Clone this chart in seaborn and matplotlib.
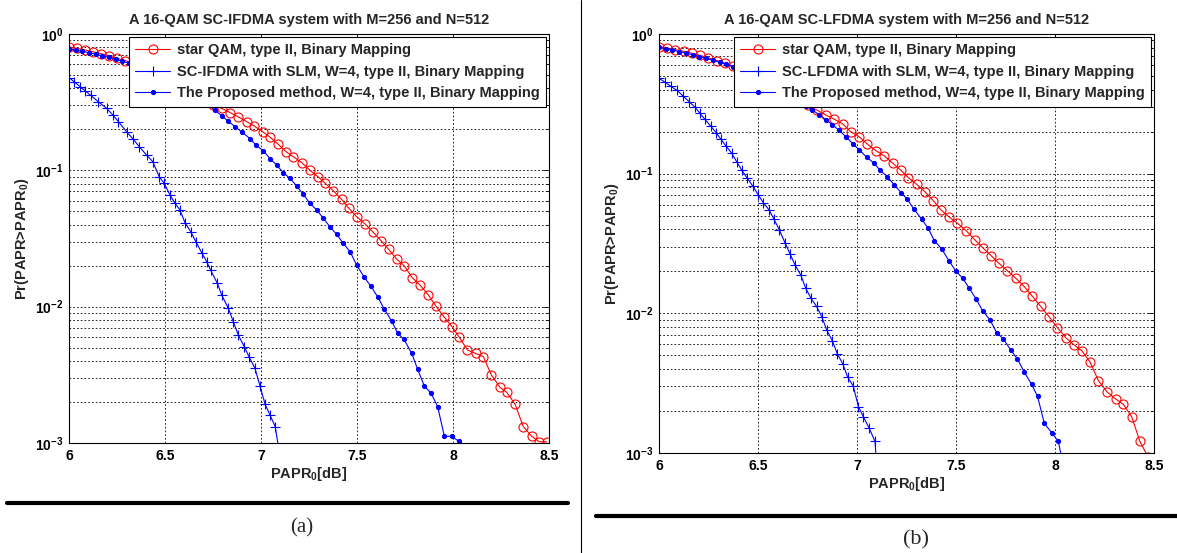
import numpy as np
import pandas as pd
import matplotlib
matplotlib.use("Agg")
import matplotlib.pyplot as plt
import seaborn as sns
from matplotlib.lines import Line2D
from matplotlib.ticker import LogLocator, NullFormatter, FixedLocator

# ---------------- data ----------------
titles = ["A 16-QAM SC-IFDMA system with M=256 and N=512",
          "A 16-QAM SC-LFDMA system with M=256 and N=512"]
labels_a = ["star QAM, type II, Binary Mapping",
            "SC-IFDMA with SLM, W=4, type II, Binary Mapping",
            "The Proposed method, W=4, type II, Binary Mapping"]
labels_b = ["star QAM, type II, Binary Mapping",
            "SC-LFDMA with SLM, W=4, type II, Binary Mapping",
            "The Proposed method, W=4, type II, Binary Mapping"]
captions = ["(a)", "(b)"]
xtick_vals = [6, 6.5, 7, 7.5, 8, 8.5]
xtick_labels = ["6", "6.5", "7", "7.5", "8", "8.5"]
ytick_vals = [1e-3, 1e-2, 1e-1, 1e0]
ytick_labels = [r"$10^{-3}$", r"$10^{-2}$", r"$10^{-1}$", r"$10^{0}$"]

# panel (a) star QAM
a_star_x = [6.000, 6.042, 6.083, 6.125, 6.167, 6.208, 6.250, 6.292, 6.333, 6.375,
            6.417, 6.458, 6.500, 6.542, 6.583, 6.625, 6.667, 6.708, 6.752, 6.795,
            6.839, 6.880, 6.925, 6.965, 7.009, 7.047, 7.090, 7.130, 7.168, 7.212,
            7.255, 7.297, 7.335, 7.377, 7.420, 7.458, 7.498, 7.542, 7.585, 7.625,
            7.665, 7.707, 7.745, 7.788, 7.828, 7.871, 7.911, 7.953, 7.995, 8.033,
            8.075, 8.118, 8.158, 8.200, 8.245, 8.280, 8.323, 8.366, 8.410, 8.449, 8.488]
a_star_y = [0.804, 0.785, 0.764, 0.741, 0.718, 0.692, 0.665, 0.638, 0.612, 0.585,
            0.556, 0.526, 0.495, 0.465, 0.435, 0.405, 0.376, 0.339, 0.301, 0.285,
            0.265, 0.247, 0.228, 0.211, 0.192, 0.175, 0.155, 0.137, 0.126, 0.114,
            0.100, 0.0897, 0.0802, 0.0708, 0.0612, 0.0526, 0.0457, 0.0404, 0.0351, 0.0305,
            0.0263, 0.0223, 0.0200, 0.0163, 0.0144, 0.0122, 0.0101, 0.00843, 0.00713, 0.00596,
            0.00481, 0.00454, 0.00430, 0.00315, 0.00256, 0.00235, 0.00193, 0.00132, 0.00112, 0.00102, 0.00102]

# panel (a) SC-IFDMA with SLM
a_slm_x = [6.000, 6.028, 6.057, 6.085, 6.113, 6.153, 6.196, 6.228, 6.257, 6.300,
           6.335, 6.366, 6.405, 6.436, 6.470, 6.496, 6.526, 6.552, 6.578, 6.604,
           6.634, 6.661, 6.691, 6.717, 6.738, 6.773, 6.795, 6.830, 6.856, 6.882,
           6.913, 6.939, 6.969, 6.995, 7.021, 7.047, 7.074, 7.102]
a_slm_y = [0.479, 0.445, 0.412, 0.382, 0.355, 0.318, 0.285, 0.255, 0.228, 0.192,
           0.169, 0.149, 0.129, 0.116, 0.0897, 0.0802, 0.0659, 0.0573, 0.0512, 0.0413,
           0.0355, 0.0299, 0.0249, 0.0214, 0.0185, 0.0148, 0.0122, 0.00971, 0.00774, 0.00619,
           0.00508, 0.00425, 0.00352, 0.00261, 0.00193, 0.00160, 0.00132, 0.00074]

# panel (a) proposed method
a_prop_x = [6.000, 6.035, 6.070, 6.104, 6.139, 6.174, 6.209, 6.243, 6.278, 6.313,
            6.348, 6.383, 6.417, 6.452, 6.487, 6.522, 6.556, 6.591, 6.626, 6.661,
            6.695, 6.726, 6.761, 6.796, 6.830, 6.865, 6.900, 6.943, 6.974, 7.012,
            7.047, 7.082, 7.116, 7.151, 7.186, 7.220, 7.255, 7.290, 7.325, 7.359,
            7.394, 7.429, 7.464, 7.498, 7.536, 7.571, 7.608, 7.642, 7.681, 7.712,
            7.745, 7.785, 7.816, 7.851, 7.885, 7.920, 7.955, 7.993, 8.030]
a_prop_y = [0.776, 0.762, 0.746, 0.730, 0.711, 0.692, 0.673, 0.652, 0.631, 0.610,
            0.587, 0.565, 0.542, 0.518, 0.493, 0.468, 0.442, 0.415, 0.387, 0.357,
            0.327, 0.301, 0.275, 0.251, 0.229, 0.209, 0.191, 0.171, 0.153, 0.139,
            0.122, 0.109, 0.0962, 0.0873, 0.0767, 0.0667, 0.0573, 0.0512, 0.0445, 0.0385,
            0.0339, 0.0291, 0.0253, 0.0202, 0.0166, 0.0142, 0.0118, 0.00959, 0.00783, 0.00637,
            0.00575, 0.00454, 0.00347, 0.00261, 0.00233, 0.00185, 0.00112, 0.00112, 0.00103]

# panel (b) star QAM
b_star_x = [6.000, 6.042, 6.083, 6.125, 6.167, 6.208, 6.250, 6.292, 6.333, 6.375,
            6.417, 6.458, 6.500, 6.542, 6.583, 6.625, 6.667, 6.708, 6.752, 6.796,
            6.843, 6.886, 6.928, 6.968, 7.010, 7.052, 7.096, 7.138, 7.180, 7.221,
            7.259, 7.301, 7.343, 7.385, 7.424, 7.466, 7.507, 7.551, 7.596, 7.638,
            7.677, 7.717, 7.759, 7.803, 7.845, 7.885, 7.928, 7.970, 8.012, 8.054,
            8.096, 8.135, 8.177, 8.219, 8.265, 8.306, 8.345, 8.387, 8.429, 8.471]
b_star_y = [0.811, 0.793, 0.773, 0.752, 0.728, 0.702, 0.675, 0.646, 0.617, 0.586,
            0.555, 0.522, 0.490, 0.457, 0.425, 0.394, 0.365, 0.336, 0.309, 0.286,
            0.263, 0.245, 0.227, 0.200, 0.184, 0.163, 0.146, 0.134, 0.119, 0.106,
            0.0938, 0.0839, 0.0743, 0.0641, 0.0550, 0.0488, 0.0442, 0.0391, 0.0335, 0.0292,
            0.0259, 0.0228, 0.0202, 0.0178, 0.0155, 0.0133, 0.0112, 0.00946, 0.00791, 0.00670,
            0.00594, 0.00541, 0.00447, 0.00330, 0.00272, 0.00244, 0.00223, 0.00182, 0.00121, 0.00093]

# panel (b) SC-LFDMA with SLM
b_slm_x = [6.000, 6.030, 6.060, 6.092, 6.122, 6.153, 6.182, 6.207, 6.232, 6.261,
           6.288, 6.313, 6.338, 6.367, 6.392, 6.418, 6.446, 6.473, 6.502, 6.527,
           6.556, 6.581, 6.608, 6.636, 6.662, 6.687, 6.716, 6.741, 6.768, 6.796,
           6.822, 6.847, 6.875, 6.901, 6.928, 6.953, 6.981, 7.007, 7.032, 7.061,
           7.091, 7.110]
b_slm_y = [0.483, 0.452, 0.422, 0.394, 0.359, 0.327, 0.299, 0.270, 0.245, 0.219,
           0.197, 0.176, 0.158, 0.140, 0.122, 0.106, 0.0927, 0.0817, 0.0703, 0.0619,
           0.0550, 0.0471, 0.0395, 0.0321, 0.0266, 0.0222, 0.0188, 0.0151, 0.0128, 0.0112,
           0.00946, 0.00760, 0.00638, 0.00512, 0.00435, 0.00349, 0.00302, 0.00215, 0.00182, 0.00151,
           0.00121, 0.00050]

# panel (b) proposed method
b_prop_x = [6.000, 6.034, 6.068, 6.102, 6.136, 6.170, 6.204, 6.238, 6.272, 6.306,
            6.340, 6.374, 6.408, 6.442, 6.476, 6.510, 6.544, 6.578, 6.612, 6.646,
            6.680, 6.708, 6.741, 6.774, 6.808, 6.842, 6.876, 6.910, 6.944, 6.978,
            7.012, 7.049, 7.086, 7.116, 7.153, 7.188, 7.224, 7.254, 7.288, 7.326,
            7.360, 7.390, 7.428, 7.465, 7.498, 7.534, 7.567, 7.601, 7.635, 7.672,
            7.705, 7.739, 7.776, 7.810, 7.843, 7.882, 7.912, 7.946, 7.983, 8.017, 8.050]
b_prop_y = [0.804, 0.785, 0.767, 0.748, 0.730, 0.710, 0.690, 0.670, 0.649, 0.628,
            0.608, 0.581, 0.553, 0.526, 0.499, 0.472, 0.446, 0.420, 0.394, 0.370,
            0.346, 0.327, 0.306, 0.286, 0.265, 0.244, 0.224, 0.204, 0.184, 0.164,
            0.148, 0.131, 0.119, 0.106, 0.0953, 0.0830, 0.0728, 0.0655, 0.0556, 0.0474,
            0.0406, 0.0332, 0.0289, 0.0237, 0.0202, 0.0178, 0.0151, 0.0127, 0.0104, 0.00897,
            0.00728, 0.00656, 0.00547, 0.00472, 0.00383, 0.00310, 0.00254, 0.00163, 0.00140, 0.00121, 0.00070]

# ---------------- style ----------------
sns.set_style("white")
plt.rcParams["font.family"] = ["Liberation Sans", "DejaVu Sans"]
plt.rcParams["font.weight"] = "bold"
plt.rcParams["mathtext.fontset"] = "custom"
plt.rcParams["mathtext.rm"] = "Liberation Sans:bold"
plt.rcParams["mathtext.it"] = "Liberation Sans:bold"
plt.rcParams["mathtext.bf"] = "Liberation Sans:bold"
plt.rcParams["mathtext.sf"] = "Liberation Sans:bold"
plt.rcParams["mathtext.default"] = "bf"

RED = "#FF0000"
BLUE = "#0000FF"
FS = 10.5

fig = plt.figure(figsize=(11.77, 5.53), dpi=100)
ax_a = fig.add_axes([69/1177, 1-443/553, 480/1177, 409/553])
ax_b = fig.add_axes([659/1177, 1-453/553, 495/1177, 419/553])


def panel(ax, title, sx, sy, lx, ly, px, py, labels, ylab_x):
    ax.set_yscale("log")
    sns.lineplot(x=sx, y=sy, ax=ax, color=RED, linewidth=0.8, marker="o",
                 markersize=6.5, markerfacecolor="none", markeredgecolor=RED,
                 markeredgewidth=0.8, estimator=None, sort=False, label=labels[0])
    sns.lineplot(x=lx, y=ly, ax=ax, color=BLUE, linewidth=0.8, marker="+",
                 markersize=7, markeredgecolor=BLUE, markeredgewidth=0.8,
                 estimator=None, sort=False, label=labels[1])
    sns.lineplot(x=px, y=py, ax=ax, color=BLUE, linewidth=0.8, marker=".",
                 markersize=6, markerfacecolor=BLUE, markeredgecolor=BLUE,
                 estimator=None, sort=False, label=labels[2])
    ax.set_xlim(6, 8.5)
    ax.set_ylim(1e-3, 1)
    ax.xaxis.set_major_locator(FixedLocator(xtick_vals))
    ax.set_xticklabels(xtick_labels)
    ax.yaxis.set_major_locator(FixedLocator(ytick_vals))
    ax.set_yticklabels(ytick_labels)
    ax.yaxis.set_minor_locator(LogLocator(base=10, subs=np.arange(2, 10), numticks=20))
    ax.yaxis.set_minor_formatter(NullFormatter())
    ax.tick_params(which="both", direction="in", top=True, right=True,
                   labelsize=10, width=0.6, colors="black")
    ax.tick_params(which="major", length=4, pad=4)
    ax.tick_params(which="minor", length=2)
    for lab in ax.get_xticklabels() + ax.get_yticklabels():
        lab.set_fontweight("bold")
    gkw = dict(color="black", linestyle=(0, (2, 2.5)), linewidth=0.6)
    ax.grid(True, which="major", axis="both", **gkw)
    ax.grid(True, which="minor", axis="y", **gkw)
    ax.set_axisbelow(True)
    for s in ax.spines.values():
        s.set_color("black")
        s.set_linewidth(0.8)
    ax.set_title(title, fontsize=FS, fontweight="bold", pad=7)
    ax.set_xlabel(r"PAPR$_0$[dB]", fontsize=FS, fontweight="bold", labelpad=2)
    ax.set_ylabel(r"Pr(PAPR>PAPR$_0$)", fontsize=FS, fontweight="bold")
    ax.yaxis.set_label_coords(ylab_x, 0.5)
    leg = ax.legend(loc="upper right", bbox_to_anchor=(0.994, 0.993),
                    borderaxespad=0, frameon=True, fancybox=False,
                    edgecolor="black", framealpha=1, handlelength=2.4,
                    handletextpad=0.45, labelspacing=0.5, borderpad=0.45,
                    prop={"weight": "bold", "size": FS})
    leg.get_frame().set_linewidth(0.8)


panel(ax_a, titles[0], a_star_x, a_star_y, a_slm_x, a_slm_y, a_prop_x, a_prop_y,
      labels_a, -0.08)
panel(ax_b, titles[1], b_star_x, b_star_y, b_slm_x, b_slm_y, b_prop_x, b_prop_y,
      labels_b, -0.076)

# separators and captions (figure decorations)
fig.add_artist(Line2D([581/1177, 581/1177], [0, 1], color="black", linewidth=0.8,
                      transform=fig.transFigure))
fig.add_artist(Line2D([7/1177, 568/1177], [1-503/553, 1-503/553], color="black",
                      linewidth=3, transform=fig.transFigure))
fig.add_artist(Line2D([596/1177, 1.0], [1-516/553, 1-516/553], color="black",
                      linewidth=3, transform=fig.transFigure))
fig.text(302/1177, 1-528/553, captions[0], ha="center", va="center",
         fontsize=15, fontweight="normal", family="Liberation Serif")
fig.text(916/1177, 1-540/553, captions[1], ha="center", va="center",
         fontsize=16, fontweight="normal", family="Liberation Serif")

fig.savefig("out.png", dpi=100)
